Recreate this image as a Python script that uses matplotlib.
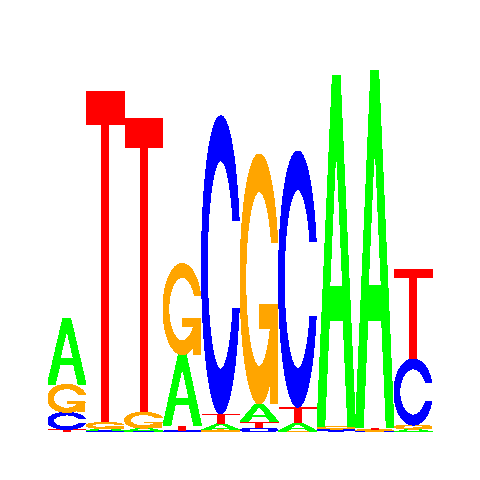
import numpy as np
import matplotlib
matplotlib.use("Agg")
import matplotlib.pyplot as plt
from matplotlib.patches import Polygon

# letter heights (bits) per position
positions = list(range(1, 11))
A = [0.361, 0.011, 0.016, 0.388, 0.033, 0.098, 0.044, 1.918, 1.951, 0.016]
C = [0.093, 0.008, 0.005, 0.008, 1.628, 0.022, 1.399, 0.011, 0.005, 0.361]
G = [0.153, 0.033, 0.087, 0.497, 0.011, 1.366, 0.005, 0.016, 0.008, 0.022]
T = [0.014, 1.809, 1.607, 0.027, 0.055, 0.033, 0.087, 0.005, 0.011, 0.492]

colors = {"A": "#00ff00", "C": "#0000ff", "G": "#ffa500", "T": "#ff0000"}


def ring():
    a1 = np.linspace(0.3 + np.pi / 2, np.pi, 100)
    a2 = np.linspace(np.pi, 1.5 * np.pi, 100)
    yl1 = 0.5 + 0.5 * np.cos(a1)
    xl = np.concatenate([0.5 + 0.5 * np.sin(a1), 0.5 + 0.5 * np.sin(a2)])
    yl = np.concatenate([yl1, 0.5 + 0.5 * np.cos(a2)])
    x = np.concatenate([xl, xl[::-1]])
    y = np.concatenate([yl, 1 - yl[::-1]])

    xi1 = 0.5 + 0.35 * np.sin(a1)
    yi1 = 0.5 + 0.35 * np.cos(a1)
    keep = yi1 <= yl1.max()
    xi1 = xi1[keep]
    yi1 = yi1[keep]
    yi1[0] = yl1.max()
    xi = np.concatenate([xi1, 0.5 + 0.35 * np.sin(a2)])
    yi = np.concatenate([yi1, 0.5 + 0.35 * np.cos(a2)])
    x1 = np.concatenate([xi, xi[::-1]])
    y1 = np.concatenate([yi, 1 - yi[::-1]])

    x = np.concatenate([x, x1[::-1]])
    y = np.concatenate([y, y1[::-1]])
    return x, y, 0.5 + 0.5 * np.sin(a1).max()


def shapes(letter):
    # list of (x, y, fill) in the unit square
    if letter == "A":
        x = 0.1 * np.array([0, 4, 6, 10, 8, 6.8, 3.2, 2, 0])
        y = 0.1 * np.array([0, 10, 10, 0, 0, 3, 3, 0, 0])
        hx = 0.1 * np.array([3.6, 5, 6.4, 3.6])
        hy = 0.1 * np.array([4, 7.5, 4, 4])
        return [(x, y, None), (hx, hy, "white")]
    if letter == "T":
        x = 0.1 * np.array([0, 10, 10, 6, 6, 4, 4, 0])
        y = 0.1 * np.array([10, 10, 9, 9, 0, 0, 9, 9])
        return [(x, y, None)]
    x, y, r1 = ring()
    if letter == "C":
        return [(x, y, None)]
    h1 = 0.4
    xa = np.array([r1, 0.5, 0.5, r1 - 0.2, r1 - 0.2, r1, r1])
    ya = np.array([h1, h1, h1 - 0.1, h1 - 0.1, 0, 0, h1])
    return [(x, y, None), (xa, ya, None)]


fig = plt.figure(figsize=(4.8, 4.8), dpi=100)
ax = fig.add_axes([47.5 / 480, 48 / 480, 385 / 480, 366 / 480])
ax.set_xlim(0, 10)
ax.set_ylim(0, 2)
ax.axis("off")

for i, pos in enumerate(positions):
    heights = {"A": A[i], "C": C[i], "G": G[i], "T": T[i]}
    order = sorted(heights, key=lambda k: heights[k])
    base = 0.0
    for letter in order:
        h = heights[letter]
        for sx, sy, fill in shapes(letter):
            pts = np.column_stack([pos - 1 + sx, base + sy * h])
            ax.add_patch(Polygon(pts, closed=True, facecolor=fill or colors[letter],
                                 edgecolor="none", antialiased=False))
        base += h

fig.savefig("out.png", dpi=100)
